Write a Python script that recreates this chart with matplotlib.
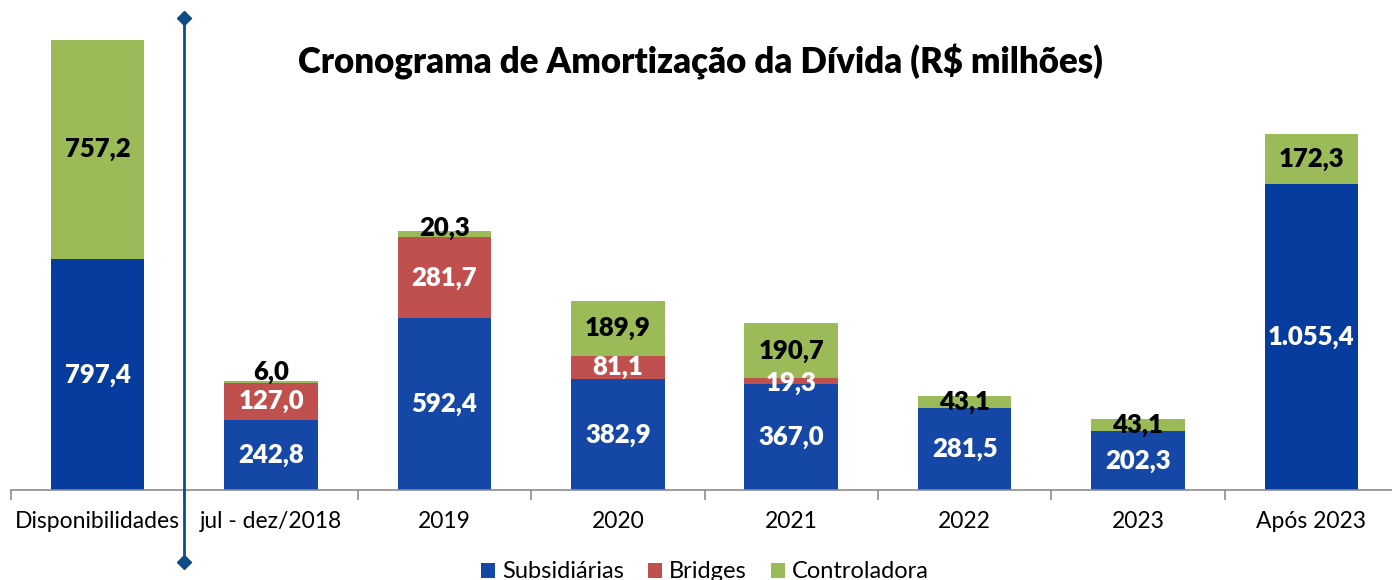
import numpy as np
from matplotlib import pyplot as plt

plt.rcParams['font.family'] = ['Lato', 'DejaVu Sans']

categories = ['Disponibilidades', 'jul - dez/2018', '2019', '2020', '2021', '2022', '2023', 'Após 2023']
subsidiarias = [797.4, 242.8, 592.4, 382.9, 367.0, 281.5, 202.3, 1055.4]
bridges = [0.0, 127.0, 281.7, 81.1, 19.3, 0.0, 0.0, 0.0]
controladora = [757.2, 6.0, 20.3, 189.9, 190.7, 43.1, 43.1, 172.3]

BLUE = '#1548A6'
BLUE_DARK = '#053C9E'
RED = '#C0504D'
GREEN = '#9BBB59'
LINE = '#0F4C85'


def fmt(v):
    s = f'{v:,.1f}'
    return s.replace(',', 'X').replace('.', ',').replace('X', '.')


fig = plt.figure(figsize=(13.92, 5.8), dpi=100)
ax = fig.add_axes([11 / 1392, 90 / 580, 1387 / 1392, 472 / 580])

x = np.arange(len(categories))
width = 0.54
blue_colors = [BLUE_DARK if i in (0, len(categories) - 1) else BLUE for i in x]

b1 = ax.bar(x, subsidiarias, width, color=blue_colors, label='Subsidiárias')
b2 = ax.bar(x, bridges, width, bottom=subsidiarias, color=RED, label='Bridges')
bottom3 = np.array(subsidiarias) + np.array(bridges)
b3 = ax.bar(x, controladora, width, bottom=bottom3, color=GREEN, label='Controladora')

lab_kw = dict(ha='center', va='center', fontsize=18.5, fontweight='heavy')
for i in x:
    s, b, c = subsidiarias[i], bridges[i], controladora[i]
    ax.text(i, s / 2, fmt(s), color='white', **lab_kw)
    if b > 0:
        yb = s + b / 2 if b > 40 else s + b / 2 - 6
        ax.text(i, yb, fmt(b), color='white', **lab_kw)
    top = s + b
    if c < 10:
        yc = top + c + 32
    elif c < 25:
        yc = top + c / 2 + 20
    else:
        yc = top + c / 2
    ax.text(i, yc, fmt(c), color='black', **lab_kw)

ax.set_xlim(-0.5, len(categories) - 0.5)
ax.set_ylim(0, 1630)

for sp in ['top', 'right', 'left']:
    ax.spines[sp].set_visible(False)
ax.spines['bottom'].set_color('#8c8c8c')
ax.spines['bottom'].set_linewidth(1.2)
ax.set_yticks([])

# category boundaries as tick marks, labels centred between them
ax.set_xticks(np.arange(len(categories) + 1) - 0.5)
ax.set_xticklabels([])
ax.tick_params(axis='x', which='major', direction='out', length=7, color='#8c8c8c', width=1.2)
ax.set_xticks(x, minor=True)
ax.set_xticklabels(categories, minor=True, fontsize=16.5)
ax.tick_params(axis='x', which='minor', length=0, pad=15)

# separator line
ax.plot([0.5, 0.5], [1630, -249], color=LINE, lw=2, marker='D', markersize=7,
        clip_on=False, zorder=5)

fig.text(700 / 1392, 1 - 62 / 580, 'Cronograma de Amortização da Dívida (R$ milhões)',
         ha='center', va='center', fontsize=25, fontweight='heavy')

fig.legend(handles=[b1[1], b2, b3], labels=['Subsidiárias', 'Bridges', 'Controladora'],
           loc='center', bbox_to_anchor=(705 / 1392, 1 - 572 / 580), ncols=3,
           frameon=False, fontsize=17, handlelength=0.6, handleheight=0.6,
           handletextpad=0.3, columnspacing=1.0)

fig.savefig('out.png', dpi=100)
